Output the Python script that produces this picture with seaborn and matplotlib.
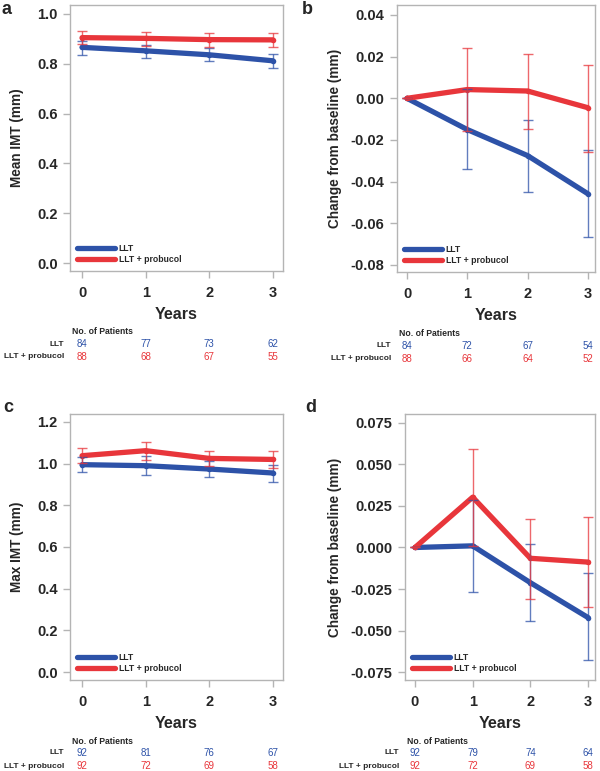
import numpy as np
import pandas as pd
import seaborn as sns
import matplotlib
matplotlib.use("Agg")
import matplotlib.pyplot as plt
import matplotlib.transforms as mtransforms
from matplotlib.lines import Line2D

# ---------------- data ----------------
years = [0, 1, 2, 3]
groups = ["LLT", "LLT + probucol"]

# panel a: Mean IMT
a_llt = [0.866, 0.852, 0.836, 0.812]
a_llt_lo = [0.835, 0.823, 0.810, 0.782]
a_llt_hi = [0.893, 0.877, 0.863, 0.838]
a_pro = [0.905, 0.902, 0.897, 0.896]
a_pro_lo = [0.878, 0.872, 0.868, 0.868]
a_pro_hi = [0.931, 0.929, 0.923, 0.923]
a_n_llt = [84, 77, 73, 62]
a_n_pro = [88, 68, 67, 55]

# panel b: change in mean IMT
b_llt = [0.0, -0.0150, -0.0275, -0.0458]
b_llt_lo = [0.0, -0.0340, -0.0448, -0.0668]
b_llt_hi = [0.0, 0.0045, -0.0105, -0.0248]
b_pro = [0.0, 0.0042, 0.0035, -0.0045]
b_pro_lo = [0.0, -0.0157, -0.0148, -0.0260]
b_pro_hi = [0.0, 0.0240, 0.0212, 0.0162]
b_n_llt = [84, 72, 67, 54]
b_n_pro = [88, 66, 64, 52]

# panel c: Max IMT
c_llt = [0.995, 0.990, 0.974, 0.955]
c_llt_lo = [0.958, 0.947, 0.937, 0.914]
c_llt_hi = [1.030, 1.035, 1.011, 0.991]
c_pro = [1.038, 1.062, 1.025, 1.020]
c_pro_lo = [1.003, 1.017, 0.987, 0.979]
c_pro_hi = [1.073, 1.105, 1.059, 1.059]
c_n_llt = [92, 81, 76, 67]
c_n_pro = [92, 72, 69, 58]

# panel d: change in max IMT
d_llt = [0.0, 0.0010, -0.0212, -0.0422]
d_llt_lo = [0.0, -0.0271, -0.0442, -0.0677]
d_llt_hi = [0.0, 0.0287, 0.0019, -0.0156]
d_pro = [0.0, 0.0303, -0.0065, -0.0088]
d_pro_lo = [0.0, 0.0012, -0.0310, -0.0361]
d_pro_hi = [0.0, 0.0593, 0.0172, 0.0186]
d_n_llt = [92, 79, 74, 64]
d_n_pro = [92, 72, 69, 58]

# ---------------- style ----------------
sns.set_theme(style="white")
plt.rcParams["font.family"] = ["Liberation Sans", "DejaVu Sans"]
plt.rcParams["axes.unicode_minus"] = False

BLUE = "#2d52a8"
RED = "#e8363b"
SPINE = "#b4b4b4"

W, H = 600, 771
fig = plt.figure(figsize=(6.0, 7.71), dpi=100)


def px_axes(left, right, top, bottom):
    return fig.add_axes([left / W, (H - bottom) / H, (right - left) / W, (bottom - top) / H])


def fy(y):
    return (H - y) / H


def draw_panel(ax, letter, letter_xy, ylab, ylabpad, ylim, yticks, yfmt, xlim,
               llt, llt_lo, llt_hi, pro, pro_lo, pro_hi, n_llt, n_pro,
               axbox, tab_y):
    df = pd.DataFrame({
        "Years": years * 2,
        "value": list(llt) + list(pro),
        "group": [groups[0]] * 4 + [groups[1]] * 4,
    })
    sns.lineplot(data=df, x="Years", y="value", hue="group",
                 palette={groups[0]: BLUE, groups[1]: RED},
                 linewidth=3.8, ax=ax, legend=False, zorder=3,
                 marker="o", markersize=4, markeredgewidth=0)
    for line in ax.get_lines():
        line.set_solid_capstyle("round")
    for vals, lo, hi, col in [(llt, llt_lo, llt_hi, BLUE), (pro, pro_lo, pro_hi, RED)]:
        v = np.array(vals)
        err = np.vstack([v - np.array(lo), np.array(hi) - v])
        ax.errorbar(years, v, yerr=err, fmt="none", ecolor=col, elinewidth=1.0,
                    capsize=3.5, capthick=1.0, alpha=0.75, zorder=4)

    ax.set_xlim(*xlim)
    ax.set_ylim(*ylim)
    ax.set_xticks(years)
    ax.set_xticklabels([str(y) for y in years])
    ax.set_yticks(yticks)
    ax.set_yticklabels([yfmt % t for t in yticks])
    ax.tick_params(axis="both", which="major", direction="out", length=5,
                   width=1, color=SPINE, labelsize=10.5, pad=4, bottom=True, left=True)
    for lab in ax.get_xticklabels() + ax.get_yticklabels():
        lab.set_fontweight("bold")
    ax.tick_params(axis="x", pad=6)
    for s in ax.spines.values():
        s.set_color(SPINE)
        s.set_linewidth(1.0)
    ax.set_xlabel("Years", fontsize=11.5, fontweight="bold", labelpad=5)
    ax.set_ylabel(ylab, fontsize=9.8, fontweight="bold", labelpad=ylabpad)

    handles = [Line2D([0], [0], color=BLUE, lw=3.8), Line2D([0], [0], color=RED, lw=3.8)]
    ax.legend(handles, groups, loc="lower left", frameon=False,
              handlelength=4.4, handletextpad=0.45, labelspacing=0.3,
              borderaxespad=0.4, prop={"size": 6.2, "weight": "bold"})

    left, right, top, bottom = axbox
    fig.text(letter_xy[0] / W, fy(letter_xy[1]), letter, fontsize=13,
             fontweight="bold", ha="left", va="center")

    # patient table
    trans = mtransforms.blended_transform_factory(ax.transData, fig.transFigure)
    fig.text((left + 2) / W, fy(tab_y[0]), "No. of Patients", fontsize=6.2,
             fontweight="bold", ha="left", va="center")
    fig.text((left - 6) / W, fy(tab_y[1]), groups[0], fontsize=6.0,
             fontweight="bold", ha="right", va="center")
    fig.text((left - 6) / W, fy(tab_y[2]), groups[1], fontsize=6.0,
             fontweight="bold", ha="right", va="center")
    for x, n1, n2 in zip(years, n_llt, n_pro):
        ax.text(x, fy(tab_y[1]), str(n1), transform=trans, color=BLUE,
                fontsize=7.0, ha="center", va="center", clip_on=False)
        ax.text(x, fy(tab_y[2]), str(n2), transform=trans, color=RED,
                fontsize=7.0, ha="center", va="center", clip_on=False)


box_a = (70, 283, 5, 271)
box_b = (397, 595, 5, 272)
box_c = (70, 283, 414, 680)
box_d = (405, 595, 414, 680)

ax_a = px_axes(*box_a)
ax_b = px_axes(*box_b)
ax_c = px_axes(*box_c)
ax_d = px_axes(*box_d)

draw_panel(ax_a, "a", (2, 9), "Mean IMT (mm)", 9, (-0.032, 1.036),
           [0.0, 0.2, 0.4, 0.6, 0.8, 1.0], "%.1f",
           (-0.19, 3.16), a_llt, a_llt_lo, a_llt_hi, a_pro, a_pro_lo, a_pro_hi,
           a_n_llt, a_n_pro, box_a, (332, 344, 357))
draw_panel(ax_b, "b", (302, 9), "Change from baseline (mm)", 6, (-0.0834, 0.0448),
           [-0.08, -0.06, -0.04, -0.02, 0.0, 0.02, 0.04], "%.2f",
           (-0.166, 3.12), b_llt, b_llt_lo, b_llt_hi, b_pro, b_pro_lo, b_pro_hi,
           b_n_llt, b_n_pro, box_b, (334, 346, 359))
draw_panel(ax_c, "c", (3, 408), "Max IMT (mm)", 9, (-0.038, 1.238),
           [0.0, 0.2, 0.4, 0.6, 0.8, 1.0, 1.2], "%.1f",
           (-0.19, 3.16), c_llt, c_llt_lo, c_llt_hi, c_pro, c_pro_lo, c_pro_hi,
           c_n_llt, c_n_pro, box_c, (742, 753, 766))
draw_panel(ax_d, "d", (305, 408), "Change from baseline (mm)", 6, (-0.0798, 0.0804),
           [-0.075, -0.05, -0.025, 0.0, 0.025, 0.05, 0.075], "%.3f",
           (-0.173, 3.12), d_llt, d_llt_lo, d_llt_hi, d_pro, d_pro_lo, d_pro_hi,
           d_n_llt, d_n_pro, box_d, (742, 753, 766))

fig.savefig("out.png", dpi=100, facecolor="white")
